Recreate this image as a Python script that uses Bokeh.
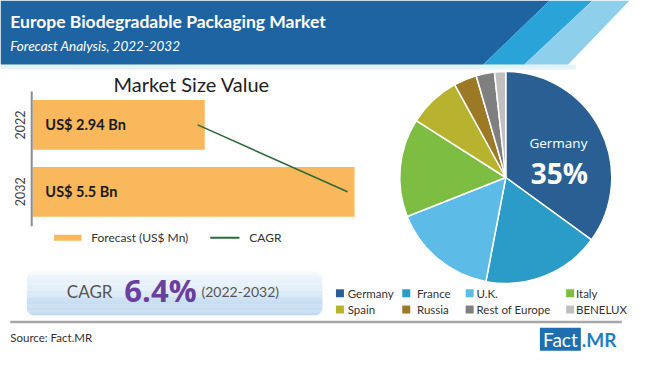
import numpy as np
from bokeh.plotting import figure
from bokeh.models import Range1d
from bokeh.core.properties import value
from bokeh.embed import file_html
from bokeh.resources import INLINE

# ---------------- data ----------------
title = "Europe Biodegradable Packaging Market"
subtitle = "Forecast Analysis, 2022-2032"
chart_title = "Market Size Value"
years = ["2022", "2032"]
market_bn = [2.94, 5.5]
bar_labels = ["US$ 2.94 Bn", "US$ 5.5 Bn"]
legend_items = ["Forecast (US$ Mn)", "CAGR"]
cagr_word = "CAGR"
cagr_value = "6.4%"
cagr_period = "(2022-2032)"
countries = ["Germany", "France", "U.K.", "Italy", "Spain", "Russia", "Rest of Europe", "BENELUX"]
shares = [35, 18, 16, 15, 8, 3.5, 2.8, 1.7]
country_colors = ["#2A5F94", "#2B9BC8", "#5DBBE8", "#7DBE42", "#B8B32E", "#9B7925", "#7F7F7F", "#C0C0C0"]
source_text = "Source: Fact.MR"

# ---------------- canvas (layout units = reference pixels 650 x 370) ----------------
W, H = 634, 354
LW, LH = 650, 370
p = figure(width=W, height=H, x_range=Range1d(0, LW), y_range=Range1d(LH, 0),
           output_backend="svg", toolbar_location=None, x_axis_type=None, y_axis_type=None,
           min_border=0, min_border_left=0, min_border_right=0, min_border_top=0, min_border_bottom=0)
p.grid.visible = False
p.outline_line_color = None
p.background_fill_color = "white"
p.border_fill_color = "white"

LATO = value("Lato")
OPEN = value("Open Sans")

# ---------------- header ----------------
p.quad(left=0, right=590, top=67, bottom=72, fill_color="#E2F3FA", line_color=None)
p.patch([0, 563, 495, 0], [0, 0, 67, 67], fill_color="#1F64A2", line_color=None)
p.patch([563, 607, 537, 495], [0, 0, 67, 67], fill_color="#2AA3D9", line_color=None)
p.patch([607, 645, 582, 537], [0, 0, 67, 67], fill_color="#8ED0EC", line_color=None)
p.text(x=[10], y=[22], text=[title], text_color="white", text_font=LATO, text_font_style="bold",
       text_font_size="17.5px", text_baseline="middle", text_align="left")
p.text(x=[10], y=[48], text=[subtitle], text_color="white", text_font=LATO, text_font_style="italic",
       text_font_size="13.5px", text_baseline="middle", text_align="left")

# ---------------- bar chart ----------------
PX_UNIT, ORIGIN = 60.0, 33.0
ROW0, ROW_STEP = 130.0, 70.0
p.extra_x_ranges = {"bar": Range1d((0 - ORIGIN) / PX_UNIT, (LW - ORIGIN) / PX_UNIT),
                    "pie": Range1d(0 - 518, LW - 518)}
p.extra_y_ranges = {"bar": Range1d((LH - ROW0) / ROW_STEP, (0 - ROW0) / ROW_STEP),
                    "pie": Range1d(185 - LH, 185 - 0)}

idx = list(range(len(years)))
p.text(x=[196], y=[87], text=[chart_title], text_color="#222222", text_font=LATO,
       text_font_size="20px", text_baseline="middle", text_align="center")
p.hbar(y=idx, left=0, right=market_bn, height=52 / ROW_STEP, fill_color="#F9B85B", line_color=None,
       x_range_name="bar", y_range_name="bar")
p.segment(x0=[32], y0=[95], x1=[32], y1=[236], line_color="#8C8C8C", line_width=2)
p.text(x=[20] * len(years), y=idx, text=years, angle=np.pi / 2, text_color="#444444", text_font=LATO,
       text_font_size="12.5px", text_baseline="middle", text_align="center", y_range_name="bar")
p.text(x=[46] * len(years), y=idx, text=bar_labels, text_color="#1A1A1A", text_font=LATO,
       text_font_style="bold", text_font_size="14.5px", text_baseline="middle", text_align="left",
       y_range_name="bar")
p.line(x=[v - 0.12 for v in market_bn], y=idx, line_color="#2E6B3A", line_width=1.6,
       x_range_name="bar", y_range_name="bar")

# legend of bar chart
p.line(x=[55, 83], y=[248, 248], line_color="#F9B85B", line_width=6)
p.line(x=[215, 245], y=[248, 248], line_color="#2E6B3A", line_width=2)
p.text(x=[93, 255], y=[248, 248], text=legend_items, text_color="#333333", text_font=LATO,
       text_font_size="12px", text_baseline="middle", text_align="left")

# ---------------- CAGR box (gradient with rounded corners) ----------------
bx0, bx1, by0, by1, r = 27, 330, 283, 329, 8
n = by1 - by0
c_top = np.array([0xF7, 0xFA, 0xFD])
c_bot = np.array([0xB6, 0xD4, 0xEE])
lefts, rights, tops, bottoms, cols = [], [], [], [], []
for i in range(n):
    t = i / (n - 1)
    ymid = by0 + i + 0.5
    d = min(ymid - by0, by1 - ymid)
    inset = r - np.sqrt(max(r * r - (r - d) ** 2, 0)) if d < r else 0
    c = (c_top * (1 - t) + c_bot * t).astype(int)
    lefts.append(bx0 + inset); rights.append(bx1 - inset)
    tops.append(by0 + i); bottoms.append(by0 + i + 1.1)
    cols.append("#%02X%02X%02X" % tuple(c))
p.quad(left=lefts, right=rights, top=tops, bottom=bottoms, fill_color=cols, line_color=None)
p.text(x=[68], y=[304], text=[cagr_word], text_color="#555555", text_font=LATO,
       text_font_size="17px", text_baseline="middle", text_align="left")
p.text(x=[127], y=[303], text=[cagr_value], text_color="#6B3FA0", text_font=OPEN,
       text_font_style="bold", text_font_size="31px", text_baseline="middle", text_align="left")
p.text(x=[206], y=[304], text=[cagr_period], text_color="#555555", text_font=LATO,
       text_font_size="14px", text_baseline="middle", text_align="left")

# ---------------- pie ----------------
frac = np.array(shares, dtype=float) / np.sum(shares)
cum = np.concatenate([[0.0], np.cumsum(frac)])
starts = np.pi / 2 - 2 * np.pi * cum[:-1]
ends = np.pi / 2 - 2 * np.pi * cum[1:]
p.wedge(x=0, y=0, radius=106, radius_units="screen", start_angle=starts, end_angle=ends,
        direction="clock", fill_color=country_colors, line_color="white", line_width=1.5,
        x_range_name="pie", y_range_name="pie")
p.text(x=[54], y=[36], text=[countries[0]], text_color="white", text_font=OPEN,
       text_font_size="13.5px", text_baseline="middle", text_align="center",
       x_range_name="pie", y_range_name="pie")
p.text(x=[55], y=[5], text=["%d%%" % shares[0]], text_color="white", text_font=OPEN,
       text_font_style="bold", text_font_size="28px", text_baseline="middle", text_align="center",
       x_range_name="pie", y_range_name="pie")

# pie legend
sq_x = [348, 416, 481, 584]
tx_x = [356, 427, 488, 590]
row_y = [306, 323]
lx, ly, ltx = [], [], []
for k in range(len(countries)):
    row, col = divmod(k, 4)
    lx.append(sq_x[col]); ly.append(row_y[row]); ltx.append(tx_x[col])
p.scatter(x=lx, y=ly, marker="square", size=8, fill_color=country_colors, line_color=None)
p.text(x=ltx, y=ly, text=countries, text_color="#333333", text_font=LATO, text_font_size="11.5px",
       text_baseline="middle", text_align="left")

# ---------------- footer ----------------
p.segment(x0=[10], y0=[336], x1=[637], y1=[336], line_color="#A6A6A6", line_width=2.5)
p.text(x=[10], y=[352], text=[source_text], text_color="#333333", text_font=LATO,
       text_font_size="11.5px", text_baseline="middle", text_align="left")
p.quad(left=[553], right=[595], top=[342], bottom=[366], fill_color="#1F6FB0", line_color=None)
p.text(x=[574], y=[354], text=["Fact"], text_color="white", text_font=LATO, text_font_size="19px",
       text_baseline="middle", text_align="center")
p.text(x=[596], y=[354], text=[".MR"], text_color="#1F7FC4", text_font=LATO, text_font_style="bold",
       text_font_size="19px", text_baseline="middle", text_align="left")

open("out.html", "w").write(file_html(p, INLINE))
